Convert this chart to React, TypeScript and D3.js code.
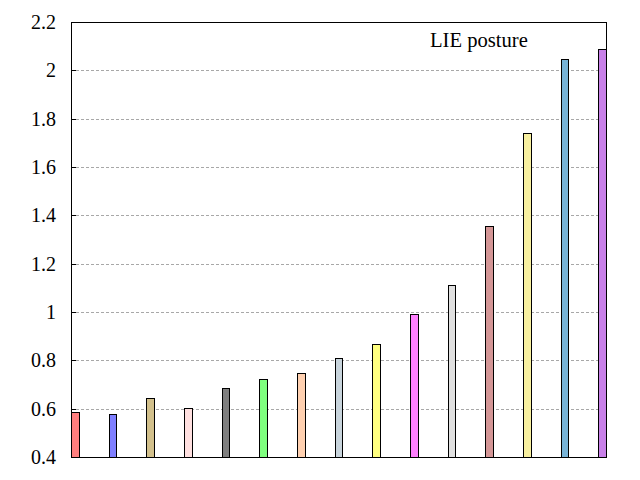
import React from "react";
import * as d3 from "d3";

const categories = ["c1","c2","c3","c4","c5","c6","c7","c8","c9","c10","c11","c12","c13","c14","c15"];
const values = [0.585,0.577,0.643,0.601,0.684,0.722,0.748,0.808,0.868,0.990,1.110,1.355,1.741,2.046,2.087];
const colors = ["#ff7f7f","#7f7fff","#d2c08c","#ffe0e0","#7f7f7f","#7fff7f","#ffd0b0","#c8d4dc","#ffff80","#ff80ff","#e0e0e0","#d49696","#f8f0a0","#78b4d8","#c880e8"];
const yTicks = [0.4,0.6,0.8,1,1.2,1.4,1.6,1.8,2,2.2];
const title = "LIE posture";

const W = 640, H = 480;
const L = 71, R = 606, T = 22, B = 457;
const font = "Liberation Serif";

export default function App() {
  const x = d3.scaleLinear().domain([-0.1, categories.length - 1 + 0.1]).range([L, R]);
  const y = d3.scaleLinear().domain([0.4, 2.2]).range([B, T]);
  const bw = x(0.2) - x(0);
  return (
    <svg width={W} height={H} style={{ position: "absolute", left: 0, top: 0, background: "#fff", fontFamily: font }}>
      <rect x={0} y={0} width={W} height={H} fill="#fff" />
      {yTicks.slice(1, -1).map((t) => (
        <line key={"g" + t} x1={L} x2={R} y1={Math.round(y(t)) + 0.5} y2={Math.round(y(t)) + 0.5}
          stroke="#a8a8a8" strokeWidth={1} strokeDasharray="3,2" />
      ))}
      {yTicks.map((t) => (
        <g key={"t" + t}>
          <line x1={L} x2={L + 5} y1={Math.round(y(t)) + 0.5} y2={Math.round(y(t)) + 0.5} stroke="#000" />
          <text x={56} y={y(t) + 7} textAnchor="end" fontFamily={font} fontSize={20} fill="#000">
            {d3.format("~g")(t)}
          </text>
        </g>
      ))}
      {values.map((v, i) => {
        const x0 = Math.round(x(i) - bw / 2) + 0.5;
        const x1 = Math.round(x(i) + bw / 2) + 0.5;
        const yt = Math.round(y(v)) + 0.5;
        return (
          <rect key={categories[i]} x={x0} y={yt} width={x1 - x0} height={B + 0.5 - yt}
            fill={colors[i]} stroke="#000" strokeWidth={1} />
        );
      })}
      <rect x={L + 0.5} y={T + 0.5} width={R - L} height={B - T} fill="none" stroke="#000" strokeWidth={1} />
      <text x={430} y={47} fontFamily={font} fontSize={20.6} fill="#000">{title}</text>
    </svg>
  );
}
